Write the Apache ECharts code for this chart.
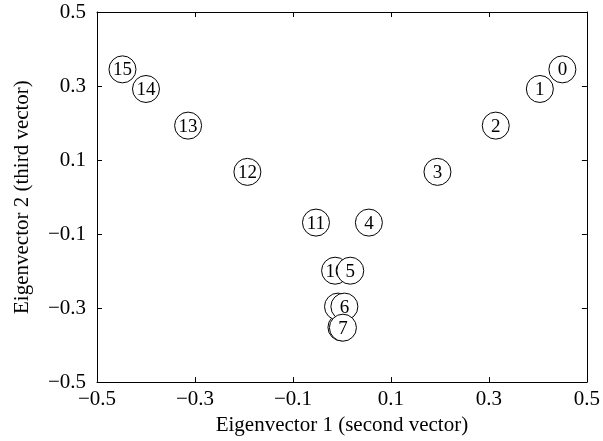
<!DOCTYPE html>
<html><head><meta charset="utf-8">
<script src="https://cdn.jsdelivr.net/npm/echarts@6/dist/echarts.min.js"></script>
<style>html,body{margin:0;padding:0;background:#fff}#c{width:603px;height:441px}</style>
</head><body><div id="c"></div><script>
// Point labels and their coordinates on the two eigenvectors
const pointIds = [0, 1, 2, 3, 4, 5, 6, 7, 8, 9, 10, 11, 12, 13, 14, 15];
const eigvec1 = [0.450, 0.404, 0.314, 0.195, 0.055, 0.017, 0.005, 0.002, -0.001, -0.008, -0.014, -0.053, -0.193, -0.314, -0.400, -0.448];
const eigvec2 = [0.345, 0.292, 0.193, 0.068, -0.069, -0.199, -0.296, -0.353, -0.352, -0.296, -0.199, -0.069, 0.068, 0.193, 0.292, 0.345];
// order in which the circles are stacked (later = on top)
const drawOrder = [8, 9, 10, 11, 12, 13, 14, 15, 0, 1, 2, 3, 4, 5, 6, 7];
const axisMin = -0.5, axisMax = 0.5, axisStep = 0.2;
const xName = 'Eigenvector 1 (second vector)';
const yName = 'Eigenvector 2 (third vector)';

const FONT = '"Liberation Serif", "Times New Roman", serif';
const fmt = v => (Math.round(v * 10) / 10).toFixed(1).replace('-', '\u2212');
const lineStyle = { color: '#000', width: 1 };
const baseAxis = {
  type: 'value', min: axisMin, max: axisMax, interval: axisStep,
  axisLine: { show: true, onZero: false, lineStyle },
  axisTick: { show: true, inside: true, length: 5, lineStyle },
  splitLine: { show: false }
};
const labelStyle = { formatter: fmt, fontFamily: FONT, fontSize: 21, color: '#000' };
const nameStyle = { fontFamily: FONT, fontSize: 21, color: '#000' };

const chart = echarts.init(document.getElementById('c'), null, { renderer: 'canvas' });
chart.setOption({
  animation: false,
  backgroundColor: '#fff',
  grid: { left: 97, right: 13, top: 12, bottom: 54 },
  xAxis: [
    Object.assign({}, baseAxis, { position: 'bottom', axisLabel: Object.assign({ margin: 7 }, labelStyle),
      name: xName, nameLocation: 'middle', nameGap: 25, nameTextStyle: nameStyle }),
    Object.assign({}, baseAxis, { position: 'top', axisLabel: { show: false } })
  ],
  yAxis: [
    Object.assign({}, baseAxis, { position: 'left', axisLabel: Object.assign({ margin: 11 }, labelStyle),
      name: yName, nameLocation: 'middle', nameGap: 64, nameTextStyle: nameStyle }),
    Object.assign({}, baseAxis, { position: 'right', axisLabel: { show: false } })
  ],
  series: [{
    type: 'custom',
    xAxisIndex: 0, yAxisIndex: 0,
    data: drawOrder.map(i => [eigvec1[i], eigvec2[i], pointIds[i]]),
    encode: { x: 0, y: 1 },
    renderItem: (params, api) => {
      const p = api.coord([api.value(0), api.value(1)]);
      return {
        type: 'group',
        children: [
          { type: 'circle', shape: { cx: p[0], cy: p[1], r: 13.5 },
            style: { fill: '#fff', stroke: '#000', lineWidth: 1 } },
          { type: 'text', x: p[0], y: p[1] + 1,
            style: { text: String(api.value(2)), fill: '#000', font: '19px ' + FONT,
                     align: 'center', verticalAlign: 'middle' } }
        ]
      };
    }
  }]
});
</script></body></html>
